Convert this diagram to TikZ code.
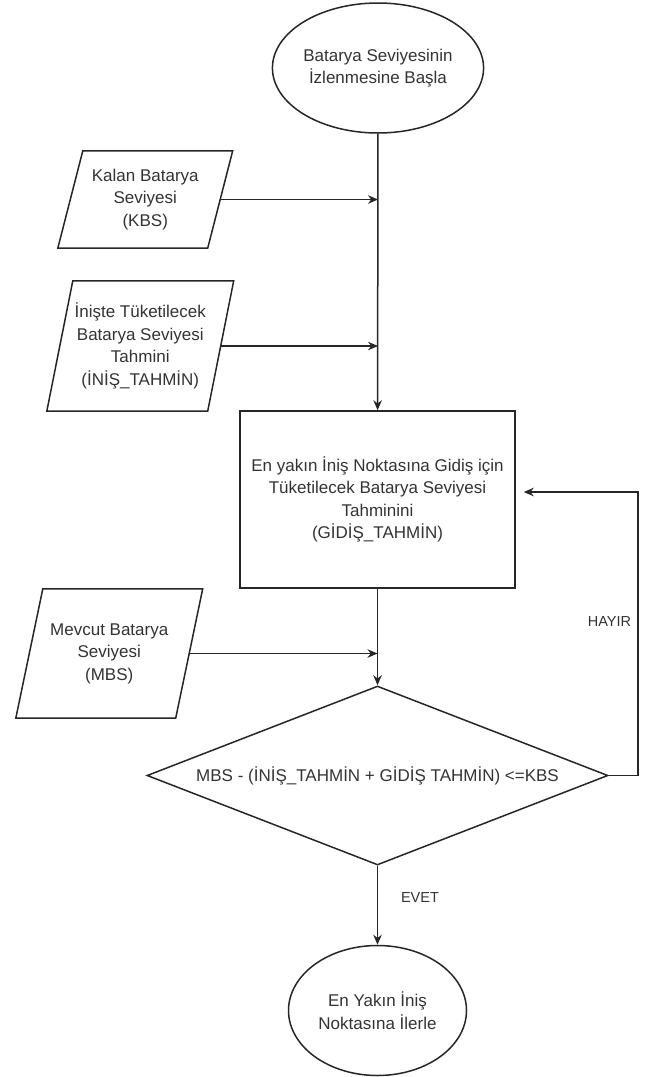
\documentclass[tikz,border=0pt]{standalone}
\usepackage{fontspec}
\setmainfont{Liberation Sans}
\usetikzlibrary{shapes.geometric,arrows.meta}
\definecolor{txt}{RGB}{51,51,51}
\begin{document}
\begin{tikzpicture}[x=1pt,y=-1pt,
  every node/.style={font=\fontsize{17}{22.5}\selectfont, text=txt, align=center},
  shp/.style={draw=black!85, line width=1.5pt, inner sep=0pt},
  outl/.style={draw=black!85, line width=1.5pt, line join=miter},
  term/.style={shp, ellipse},
  io/.style={rectangle, inner sep=0pt},
  proc/.style={shp, rectangle},
  dec/.style={shp, diamond},
  lbl/.style={font=\fontsize{14.5}{17}\selectfont},
  arr/.style={draw=black!85, line width=1.5pt, -{Stealth[length=10pt,width=8.5pt]}}
]
\useasboundingbox (0,0) rectangle (648,1077);

\node[term, minimum width=172pt, minimum height=130pt] (start) at (378,68) {Batarya Seviyesinin\\İzlenmesine Başla};

% input parallelograms: node = midline box, outline drawn from its corners
\node[io, minimum width=149.5pt, minimum height=97pt] (kbs) at (145.25,199.5) {Kalan Batarya\\Seviyesi\\(KBS)};
\draw[outl] ([xshift=-12.5pt]kbs.south west) -- ([xshift=12.5pt]kbs.north west) -- ([xshift=12.5pt]kbs.north east) -- ([xshift=-12.5pt]kbs.south east) -- cycle;

\node[io, minimum width=160.5pt, minimum height=130pt] (inis) at (140.25,346) {İnişte Tüketilecek\\Batarya Seviyesi\\Tahmini\\(İNİŞ\_TAHMİN)};
\draw[outl] ([xshift=-13pt]inis.south west) -- ([xshift=13pt]inis.north west) -- ([xshift=13pt]inis.north east) -- ([xshift=-13pt]inis.south east) -- cycle;

\node[proc, minimum width=275pt, minimum height=177pt] (gidis) at (377.5,499.5) {En yakın İniş Noktasına Gidiş için\\Tüketilecek Batarya Seviyesi\\Tahminini\\(GİDİŞ\_TAHMİN)};

\node[io, minimum width=159.5pt, minimum height=129pt] (mbs) at (109.25,653.5) {Mevcut Batarya\\Seviyesi\\(MBS)};
\draw[outl] ([xshift=-13.5pt]mbs.south west) -- ([xshift=13.5pt]mbs.north west) -- ([xshift=13.5pt]mbs.north east) -- ([xshift=-13.5pt]mbs.south east) -- cycle;

\node[dec, aspect=2.575, minimum width=461pt, minimum height=179pt] (cond) at (377.5,775.5) {MBS - (İNİŞ\_TAHMİN + GİDİŞ TAHMİN) <=KBS};

\node[term, minimum width=178pt, minimum height=130pt] (end) at (377.5,1010.5) {En Yakın İniş\\Noktasına İlerle};

\coordinate (loopc) at (638,492);

\draw[arr] (start) -- (gidis);
\draw[arr] (kbs.east) -- (kbs.east -| start.south);
\draw[arr] (inis.east) -- (inis.east -| start.south);
\draw[arr] (gidis) -- (cond);
\draw[arr] (mbs.east) -- (mbs.east -| gidis.south);
\draw[arr, shorten >=8pt] (cond.east) -| (loopc) -- (loopc -| gidis.east);
\draw[arr] (cond) -- (end);

\node[lbl] (hayir) at (609.5,622) {HAYIR};
\node[lbl] (evet) at (420,897) {EVET};
\end{tikzpicture}
\end{document}
